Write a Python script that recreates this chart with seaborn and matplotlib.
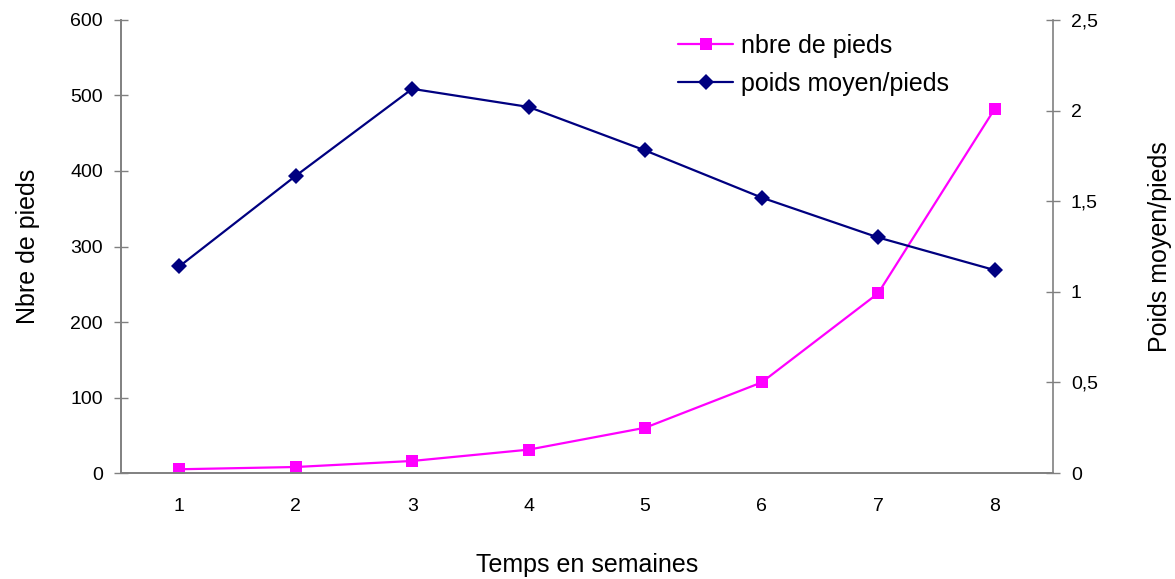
import matplotlib
matplotlib.use("Agg")
import matplotlib.pyplot as plt
import seaborn as sns
from matplotlib.ticker import FuncFormatter

# Donnees
semaines = [1, 2, 3, 4, 5, 6, 7, 8]
nbre_pieds = [5, 8, 16, 31, 60, 120, 238, 482]
poids_moyen = [1.14, 1.64, 2.12, 2.02, 1.78, 1.52, 1.30, 1.12]

ROSE = "#FF00FF"
MARINE = "#000080"
GRIS = "#808080"

sns.set_style("white")
plt.rcParams["font.family"] = ["Liberation Sans", "DejaVu Sans"]
plt.rcParams["text.color"] = "black"
plt.rcParams["axes.labelcolor"] = "black"
plt.rcParams["xtick.color"] = "black"
plt.rcParams["ytick.color"] = "black"

fig = plt.figure(figsize=(11.75, 5.79), dpi=100)
ax = fig.add_axes([0.103, 0.183, 0.793, 0.7825])
ax2 = ax.twinx()

sns.lineplot(x=semaines, y=nbre_pieds, ax=ax, color=ROSE, marker="s",
             markersize=9, markeredgewidth=0, linewidth=1.6, label="nbre de pieds",
             legend=False)
sns.lineplot(x=semaines, y=poids_moyen, ax=ax2, color=MARINE, marker="D",
             markersize=8, markeredgewidth=0, linewidth=1.6, label="poids moyen/pieds",
             legend=False)

ax.set_xlim(0.5, 8.5)
ax.set_ylim(0, 600)
ax2.set_ylim(0, 2.5)
ax.set_xticks(semaines)
ax.set_yticks(range(0, 601, 100))
ax2.set_yticks([0, 0.5, 1, 1.5, 2, 2.5])
ax2.yaxis.set_major_formatter(FuncFormatter(lambda v, p: f"{v:g}".replace(".", ",")))

# graduations de l'axe x entre les categories
ax.set_xticks([i + 0.5 for i in range(0, 9)], minor=True)
ax.tick_params(axis="x", which="major", length=0, labelsize=14, pad=18)
ax.tick_params(axis="x", which="minor", direction="inout", length=10, width=1, color=GRIS)
ax.tick_params(axis="y", direction="inout", length=10, width=1, color=GRIS, labelsize=14, pad=8)
ax2.tick_params(axis="y", direction="inout", length=10, width=1, color=GRIS, labelsize=14, pad=8)

for a in (ax, ax2):
    a.spines["top"].set_visible(False)
    for s in ("left", "right", "bottom"):
        a.spines[s].set_color(GRIS)
        a.spines[s].set_linewidth(1.2)
ax.spines["right"].set_visible(False)

ax.set_xlabel("Temps en semaines", fontsize=18, labelpad=27)
ax.set_ylabel("Nbre de pieds", fontsize=18, labelpad=22)
ax2.set_ylabel("Poids moyen/pieds", fontsize=18, labelpad=36)

h1, l1 = ax.get_legend_handles_labels()
h2, l2 = ax2.get_legend_handles_labels()
fig.legend(h1 + h2, l1 + l2, loc="upper left", bbox_to_anchor=(0.558, 0.98),
           frameon=False, fontsize=18, handlelength=2.2, labelspacing=0.55,
           handletextpad=0.3)

fig.savefig("out.png", dpi=100)
